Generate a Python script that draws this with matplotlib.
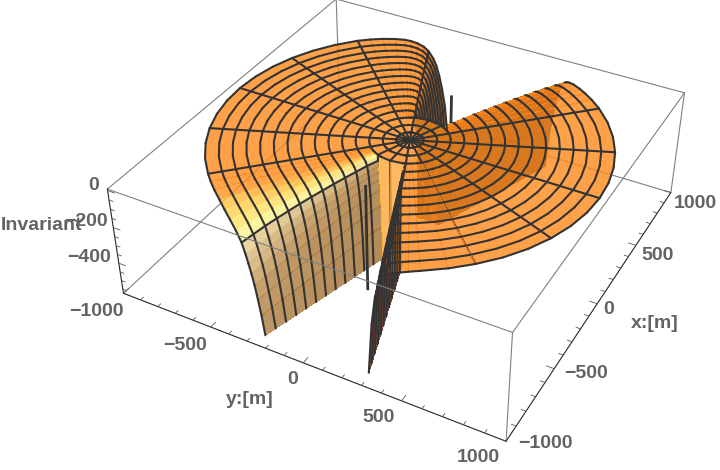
import numpy as np, matplotlib
matplotlib.use('Agg')
import matplotlib.pyplot as plt
from mpl_toolkits.mplot3d.art3d import Poly3DCollection, Line3DCollection

# ---------- data ----------
rim_theta = [-180,-165,-164,-163,-162,-161,-160,-159,-157.5,-155,-152,-149,-146,-142,-138.5,-135,
             -127.5,-120,-112.5,-105,-97.5,-90,-82.5,-75,-67.5,-60,-52.5,
             -45,-41,-37,-33,-30,-28,-26,-24,-22.5,-21,-20,-19,-18,-17,-16,0,
             20,21,22,22.5,23,24,25,26,27,28,30,33,36,40,45,
             52.5,60,67.5,75,82.5,90,97.5,105,112.5,120,127.5,
             135,142,149,152,155,157.5,158.5,159.5,160.5,161.5,162.5,180]
rim_z = [-575,-575,-470,-390,-320,-265,-220,-180,-130,-90,-60,-38,-20,-10,-4,0,
         0,0,0,0,0,0,0,0,0,0,0,
         0,-2,-5,-10,-16,-24,-36,-55,-80,-120,-160,-220,-300,-400,-575,-575,
         -575,-350,-230,-185,-140,-80,-45,-28,-18,-12,-6,-3,-2,-1,0,
         0,0,0,0,0,0,0,0,0,0,0,
         0,-2,-5,-9,-16,-28,-40,-75,-150,-300,-575,-575]
ring_r = [64,128,192,256,320,384,448,512,576,640,704,768,832,896,960]
ring_pow = [1,1,2.0,1.92,1.83,1.75,1.67,1.58,1.5,1.42,1.33,1.25,1.17,1.08,1.0]
spokes = [-180,-157.5,-135,-112.5,-90,-67.5,-45,-22.5,0,22.5,45,67.5,90,112.5,135,157.5]
disc_ring = 2
bar_x = [-420,430]
x_ticks = list(range(-1000,1001,100)); y_ticks = list(range(-1000,1001,100)); z_ticks = list(range(-550,1,50))
x_labels = [('\u22121000',545,443),('\u2212500',586,373),('0',609,310),('500',658,255),('1000',695,203)]
y_labels = [('\u22121000',96,312),('\u2212500',185,346),('0',293,380),('500',379,417),('1000',478,457)]
z_labels = [('0',94,185),('\u2212200',86,222),('\u2212400',89,258)]
axis_labels = [('Invariant',41,226),('x:[m]',655,323),('y:[m]',250,400)]

# ---------- camera fitted to the box corners ----------
W,H = 720,470
Z_TOP,Z_BOT = 8,-575
elev,azim,roll,focal,zr,S,cx,cy = 36.36,-151.658,-0.1,0.453,0.306,581.04,402.05,198.79
fig = plt.figure(figsize=(W/100,H/100),dpi=100)
ax = fig.add_axes([(cx-S/2)/W,(H-cy-S/2)/H,S/W,S/H],projection='3d',computed_zorder=False)
ax.set_axis_off()
ax.set_xlim(-1000,1000); ax.set_ylim(1000,-1000); ax.set_zlim(Z_BOT,Z_TOP)
ax.view_init(elev,azim,roll); ax.set_proj_type('persp',focal_length=focal); ax.set_box_aspect((1,1,zr))

th = np.array(rim_theta,float); rz = np.array(rim_z,float); rr = np.array(ring_r,float)
def zval(i,k):
    """height at ring k, angle index i; inside the disc the surface is level"""
    if k<=disc_ring: return 0.0
    return -575*(abs(rz[i])/575)**ring_pow[k]
def pt(i,r,z):
    a=np.radians(th[i]); return (r*np.cos(a),r*np.sin(a),z)

ALPHA=.8
BASE=(255,161,72)
def fin(c):
    c=np.array(c,float)
    return np.clip((c-255*(1-ALPHA))/ALPHA,0,255)/255
nzk=[0,.2,.45,.76,.93,1]
ramps={
 'fl':[(178,138,88),(195,155,105),(235,215,165),(255,250,160),(255,215,110),BASE],
 'fr':[(120,70,20),(175,70,25),(235,100,50),(255,145,90),(255,155,75),BASE],
 'rl':[(150,95,35),(170,105,35),(210,125,40),(245,145,55),(255,155,65),BASE],
 'rr':[(70,40,20),(90,50,25),(130,70,30),(220,130,50),(250,155,65),BASE],
}
def colour(sector,nz):
    ramp=np.array(ramps[sector],float)
    return [np.interp(nz,nzk,ramp[:,c]) for c in range(3)]
def sector(t):
    if t<-90: return 'fl'
    if t<0: return 'rl'
    if t<90: return 'rr'
    return 'fr'
def layer(t):
    if 0<t<26: return 'W'
    if abs(t)<45: return 'A'
    if t>135: return 'C'
    return 'B'
Q={k:([],[]) for k in 'WABCD'}
L={k:[] for k in 'WABCD'}
def quad(lay,v,col):
    Q[lay][0].append(v); Q[lay][1].append((*fin(col)[:3],ALPHA))
n=len(th)
edges=sorted(int(np.argmin(abs(th-s))) for s in spokes)+[n-1]
r0=rr[disc_ring]
for a,b in zip(edges[:-1],edges[1:]):
    tm=.5*(th[a]+th[b]); lay=layer(tm); sec=sector(tm)
    flat=np.all(rz[a:b+1]==0)
    # bands of the level disc and of the level sectors are one polygon per mesh cell
    prev_r=0.0
    for k in range(disc_ring+1):
        idx=list(range(a,b+1))
        v=[pt(i,rr[k],0) for i in idx]+[pt(i,prev_r,0) for i in idx[::-1]]
        quad('D',v,BASE); prev_r=rr[k]
    if flat:
        for k in range(disc_ring,len(rr)-1):
            idx=list(range(a,b+1))
            v=[pt(i,rr[k+1],0) for i in idx]+[pt(i,rr[k],0) for i in idx[::-1]]
            quad(lay,v,BASE)
        continue
    for i in range(a,b):
        tq=.5*(th[i]+th[i+1]); lq=layer(tq); sq=sector(tq)
        z0,z1=zval(i,disc_ring+1),zval(i+1,disc_ring+1)
        if min(z0,z1)<-20:
            if abs(tq)>90:
                g=np.clip((abs(tq)-160)/20,0,1)
                c=(255,205-35*g,115-30*g)
            else:
                c=(120,70,35)
            v=[pt(i,r0,0),pt(i+1,r0,0),pt(i+1,r0+.5,z1),pt(i,r0+.5,z0)]
            quad('W' if abs(tq)<45 else lq,v,c)
        for k in range(disc_ring,len(rr)-1):
            ka=max(k,disc_ring+1)
            ra=rr[k] if k>disc_ring else r0+.5
            q=[pt(i,ra,zval(i,ka)),pt(i+1,ra,zval(i+1,ka)),pt(i+1,rr[k+1],zval(i+1,k+1)),pt(i,rr[k+1],zval(i,k+1))]
            if max(p[2] for p in q)<=Z_BOT+.01: continue
            A=np.array(q); nrm=np.cross(A[2]-A[0],A[3]-A[1])
            nz=abs(nrm[2])/(np.linalg.norm(nrm)+1e-9)
            quad(lq,q,colour(sq,nz))
for k,r in enumerate(rr):
    for i in range(n-1):
        tm=.5*(th[i]+th[i+1])
        z0,z1=zval(i,k),zval(i+1,k)
        if max(z0,z1)<=Z_BOT+.01: continue
        L['D' if k<=disc_ring else layer(tm)].append([pt(i,r,z0),pt(i+1,r,z1)])
for s in spokes:
    i=int(np.argmin(abs(th-s)))
    for k in range(len(rr)):
        ra=0 if k==0 else rr[k-1]
        za=0 if k==0 else zval(i,k-1); zb=zval(i,k)
        if k<=disc_ring:
            L['D'].append([pt(i,ra,0),pt(i,rr[k],0)])
        else:
            if k==disc_ring+1:
                L[layer(s)].append([pt(i,rr[disc_ring],0),pt(i,rr[disc_ring],zb)])
                za=zb
            if max(za,zb)>Z_BOT+.01:
                L[layer(s)].append([pt(i,ra,za),pt(i,rr[k],zb)])
INK=(.2,.2,.2)
zo={'W':2,'A':4,'B':6,'C':8,'D':10}
for k in 'WABCD':
    pc=Poly3DCollection(Q[k][0],facecolors=Q[k][1],edgecolors='none',linewidths=0,antialiased=False,zorder=zo[k],clip_on=False)
    ax.add_collection3d(pc,autolim=False)
    lc=Line3DCollection(L[k],colors=[INK],linewidths=1.5,zorder=zo[k]+1,clip_on=False,capstyle='round')
    ax.add_collection3d(lc,autolim=False)

def seg(a,b,col,lw,z):
    ax.plot([a[0],b[0]],[a[1],b[1]],[a[2],b[2]],color=col,lw=lw,zorder=z,clip_on=False,solid_capstyle='round')
G=(.5,.5,.5); D=(.15,.15,.15)
X,Y,T,Bt=1000,1000,Z_TOP,Z_BOT
cL=(-X,-Y); cF=(-X,Y); cR=(X,Y); cB=(X,-Y)
for a,b,zz in [((*cB,T),(*cB,Bt),0),((*cB,Bt),(*cL,Bt),0),((*cB,Bt),(*cR,Bt),0),((*cB,T),(*cL,T),0),((*cB,T),(*cR,T),0)]:
    seg(a,b,G,.8,zz)
for a,b in [((*cL,T),(*cF,T)),((*cF,T),(*cR,T)),((*cF,T),(*cF,Bt)),((*cR,T),(*cR,Bt))]:
    seg(a,b,G,.8,13)
seg((*cL,T),(*cL,Bt),D,.8,13); seg((*cL,Bt),(*cF,Bt),D,.8,13); seg((*cF,Bt),(*cR,Bt),D,.8,13)
tk=[]
for t in y_ticks:
    ln=40 if t%500==0 else 24
    tk.append([(-X,t,Bt),(-X+ln,t,Bt)])
for t in x_ticks:
    ln=40 if t%500==0 else 24
    tk.append([(t,Y,Bt),(t,Y-ln,Bt)])
for t in z_ticks:
    ln=40 if t%200==0 else 24
    tk.append([(-X,-Y,t),(-X,-Y+ln,t)])
ax.add_collection3d(Line3DCollection(tk,colors=[(.35,.35,.35)],linewidths=.6,zorder=13,clip_on=False),autolim=False)
ax.plot([bar_x[1]]*2,[0,0],[0,Z_BOT],color=INK,lw=2,zorder=1,clip_on=False)
ax.plot([bar_x[0]]*2,[0,0],[0,Z_BOT],color=INK,lw=2,zorder=12,clip_on=False)

TXT=dict(family='Liberation Sans',fontweight='bold',fontsize=14,color=(.39,.39,.39),ha='center',va='center')
for s,x,y in x_labels+y_labels+z_labels+axis_labels:
    fig.text(x/W,1-y/H,s,**TXT)
fig.savefig('out.png',dpi=100)
